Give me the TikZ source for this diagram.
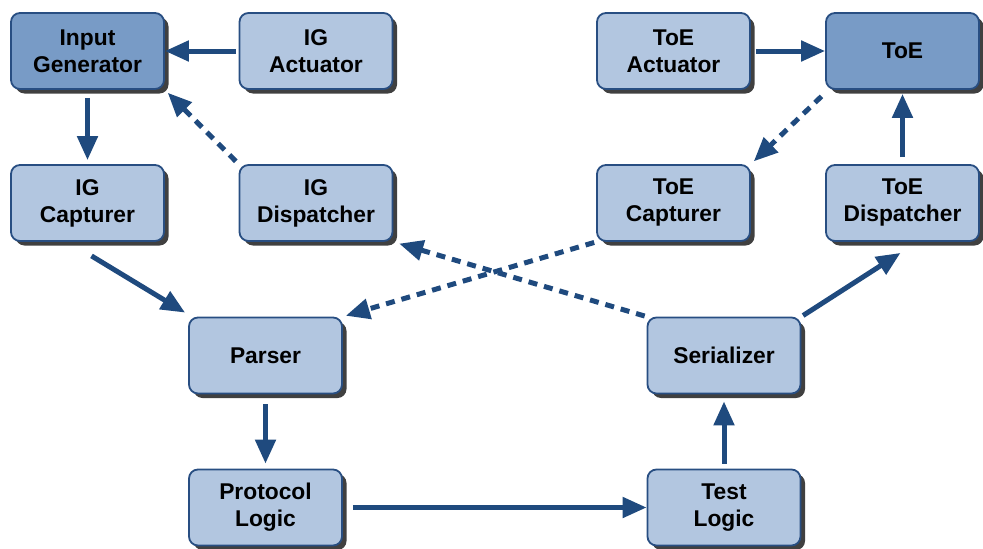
\documentclass[tikz,border=0pt]{standalone}
\usepackage{fontspec}
\setmainfont{Liberation Sans}
\usetikzlibrary{arrows.meta,shadows,calc}
\definecolor{boxlight}{RGB}{178,198,224}
\definecolor{boxdark}{RGB}{120,155,198}
\definecolor{boxborder}{RGB}{40,78,130}
\definecolor{arrowblue}{RGB}{31,74,126}
\definecolor{shadowgray}{RGB}{64,64,64}
\tikzset{
  box/.style={draw=boxborder, line width=1.8pt, fill=boxlight, rounded corners=9pt,
    minimum width=153pt, minimum height=76pt, align=center,
    font=\fontsize{22.8}{27}\selectfont\bfseries,
    drop shadow={shadow xshift=4.5pt, shadow yshift=-4.5pt, fill=shadowgray, opacity=1}},
  darkbox/.style={box, fill=boxdark},
  conn/.style={draw=arrowblue, line width=5pt, -{Triangle[length=24pt,width=20pt]}},
  dconn/.style={conn, dash pattern=on 9pt off 7pt}
}
\begin{document}
\begin{tikzpicture}[x=1pt,y=1pt]
\useasboundingbox (0,0) rectangle (983,-549);
\node[darkbox] (ig) at (87.5,-51) {Input\\Generator};
\node[box] (igact) at (316,-51) {IG\\Actuator};
\node[box] (toeact) at (673.5,-51) {ToE\\Actuator};
\node[darkbox] (toe) at (902.5,-51) {ToE};
\node[box] (igcap) at (87.5,-203) {IG\\Capturer};
\node[box] (igdisp) at (316,-203) {IG\\Dispatcher};
\node[box] (toecap) at (673.5,-203) {ToE\\Capturer};
\node[box] (toedisp) at (902.5,-203) {ToE\\Dispatcher};
\node[box] (parser) at (265.5,-355.5) {Parser};
\node[box] (ser) at (724,-355.5) {Serializer};
\node[box] (proto) at (265.5,-507.5) {Protocol\\Logic};
\node[box] (test) at (724,-507.5) {Test\\Logic};

\draw[conn, shorten <=3pt] (igact.west) -- (ig.east);
\draw[conn, shorten <=8pt, shorten >=4pt] (ig.south) -- (igcap.north);
\draw[dconn, shorten <=4pt, shorten >=4pt] (igdisp.north west) -- (ig.south east);
\draw[conn] ($(igcap.south)+(4,-14)$) -- ($(parser.north west)+(-3,4)$);
\draw[dconn, shorten <=2pt, shorten >=3pt] (toecap.south west) -- (parser.north east);
\draw[dconn, shorten <=2pt, shorten >=6pt] (ser.north west) -- (igdisp.south east);
\draw[conn, shorten <=10pt, shorten >=5pt] (parser.south) -- (proto.north);
\draw[conn, shorten <=10pt] (proto.east) -- (test.west);
\draw[conn, shorten <=5pt, shorten >=7pt] (test.north) -- (ser.south);
\draw[conn, shorten <=2pt] (ser.north east) -- ($(toedisp.south)+(-2,-11)$);
\draw[conn, shorten <=7pt, shorten >=4pt] (toedisp.north) -- (toe.south);
\draw[conn, shorten <=5pt] (toeact.east) -- (toe.west);
\draw[dconn, shorten <=5pt, shorten >=4pt] ($(toe.south west)+(0,-3)$) -- (toecap.north east);
\end{tikzpicture}
\end{document}
